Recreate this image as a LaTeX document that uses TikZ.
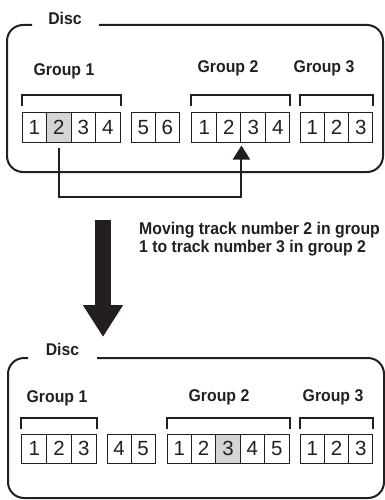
\documentclass[tikz,border=0pt]{standalone}
\usepackage{fontspec}
\setmainfont{Liberation Sans}
\newfontfamily\condfont{Liberation Sans}[FakeStretch=0.93]
\usetikzlibrary{arrows.meta}
\definecolor{inkgray}{HTML}{231F20}
\definecolor{shadegray}{HTML}{D4D4D4}

\begin{document}
\begin{tikzpicture}[x=1pt, y=-1pt,
    track/.style={draw=inkgray, line width=1pt, minimum width=24.5pt, minimum height=29pt,
        inner sep=0pt, text=inkgray, font=\fontsize{20.5}{20.5}\selectfont},
    moved/.style={track, fill=shadegray},
    grouplabel/.style={anchor=base, inner sep=0pt, text=inkgray,
        font=\condfont\bfseries\fontsize{17}{18}\selectfont},
    bracket/.style={draw=inkgray, line width=2pt},
    discbox/.style={draw=inkgray, line width=2pt, rounded corners=16pt}]
            \useasboundingbox (0,0) rectangle (385,500);

            % disc before the move
            \draw[discbox] (99,25) -- (383,25) -- (383,172) -- (7,172) -- (7,25) -- (32,25);
            \node[grouplabel] (disca) at (65,25) {Disc};
            \node[grouplabel] (grp1a) at (64,76) {Group 1};
            \node[grouplabel] (grp2a) at (228,73) {Group 2};
            \node[grouplabel] (grp3a) at (324,73) {Group 3};

            \node[track] (a11) at (34.3,127.5) {1};
            \node[moved] (a12) at (58.8,127.5) {2};
            \node[track] (a13) at (83.3,127.5) {3};
            \node[track] (a14) at (107.8,127.5) {4};
            \node[track, minimum width=24pt] (a5) at (143.2,127.5) {5};
            \node[track, minimum width=24pt] (a6) at (167.2,127.5) {6};
            \node[track] (a21) at (204.2,127.5) {1};
            \node[track] (a22) at (228.7,127.5) {2};
            \node[track] (a23) at (253.2,127.5) {3};
            \node[track] (a24) at (277.7,127.5) {4};
            \node[track, minimum width=24.3pt] (a31) at (312.2,127.5) {1};
            \node[track, minimum width=24.3pt] (a32) at (336.5,127.5) {2};
            \node[track, minimum width=24.3pt] (a33) at (360.8,127.5) {3};

            \draw[bracket] ([yshift=6pt]a11.north west) -- ++(0,-11) -| ([yshift=6pt]a14.north east);
            \draw[bracket] ([yshift=6pt]a21.north west) -- ++(0,-11) -| ([yshift=6pt]a24.north east);
            \draw[bracket] ([yshift=6pt]a31.north west) -- ++(0,-11) -| ([yshift=6pt]a33.north east);

            % track 2 of group 1 goes between tracks 2 and 3 of group 2
            \draw[inkgray, line width=2pt, -{Triangle[width=17pt,length=14pt]}]
                ([yshift=-5pt]a12.south) -- ++(0,49) -| ([yshift=-3pt]a22.south east);

            % big arrow down to the result
            \coordinate (downstart) at (103,220);
            \coordinate (downend) at (103,337);
            \draw[inkgray, line width=16pt, -{Triangle[width=38pt,length=32pt]}] (downstart) -- (downend);
            \node[grouplabel, anchor=base west, align=left] (note) at (139,252)
                {Moving track number 2 in group\\1 to track number 3 in group 2};

            % disc after the move
            \draw[discbox] (97,358) -- (384,358) -- (384,498) -- (8,498) -- (8,358) -- (28,358);
            \node[grouplabel] (discb) at (62.5,355) {Disc};
            \node[grouplabel] (grp1b) at (57,402) {Group 1};
            \node[grouplabel] (grp2b) at (219,401) {Group 2};
            \node[grouplabel] (grp3b) at (333,401) {Group 3};

            \node[track, minimum width=24.7pt] (b11) at (34.3,448.5) {1};
            \node[track, minimum width=24.7pt] (b12) at (59,448.5) {2};
            \node[track, minimum width=24.7pt] (b13) at (83.7,448.5) {3};
            \node[track, minimum width=24pt] (b4) at (119,448.5) {4};
            \node[track, minimum width=24pt] (b5) at (143,448.5) {5};
            \node[track, minimum width=24.4pt] (b21) at (179.2,448.5) {1};
            \node[track, minimum width=24.4pt] (b22) at (203.6,448.5) {2};
            \node[moved, minimum width=24.4pt] (b23) at (228,448.5) {3};
            \node[track, minimum width=24.4pt] (b24) at (252.4,448.5) {4};
            \node[track, minimum width=24.4pt] (b25) at (276.8,448.5) {5};
            \node[track, minimum width=24.3pt] (b31) at (312.2,448.5) {1};
            \node[track, minimum width=24.3pt] (b32) at (336.5,448.5) {2};
            \node[track, minimum width=24.3pt] (b33) at (360.8,448.5) {3};

            \draw[bracket] ([yshift=5pt]b11.north west) -- ++(0,-11) -| ([yshift=5pt]b13.north east);
            \draw[bracket] ([yshift=5pt]b21.north west) -- ++(0,-11) -| ([yshift=5pt]b25.north east);
            \draw[bracket] ([yshift=5pt]b31.north west) -- ++(0,-11) -| ([yshift=5pt]b33.north east);
        \end{tikzpicture}
\end{document}
